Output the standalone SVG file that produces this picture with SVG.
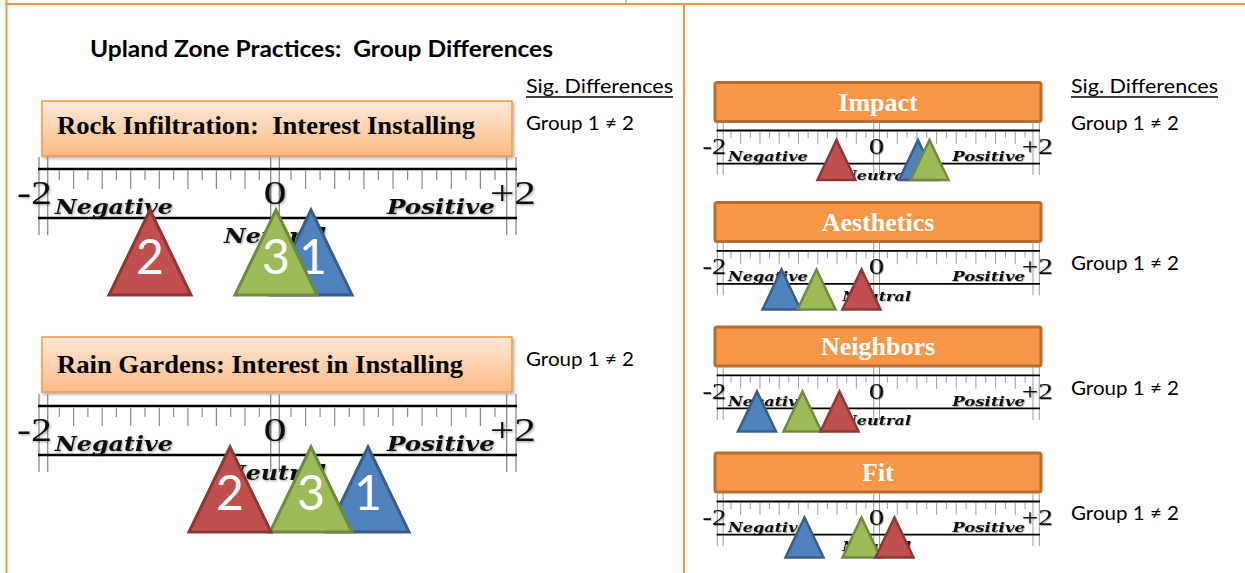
<svg xmlns="http://www.w3.org/2000/svg" xmlns:xlink="http://www.w3.org/1999/xlink" width="1245" height="573" viewBox="0 0 1245 573">
  <style>
    .frame { stroke: #f79646; stroke-width: 2; fill: none; }
    .title { font-family: Lato, "Open Sans", "Liberation Sans", sans-serif; font-weight: bold; font-size: 22px; fill: #000; }
    .sig { font-family: Lato, "Open Sans", "Liberation Sans", sans-serif; font-size: 20px; fill: #000; }
    .grp { font-family: Lato, "Open Sans", "Liberation Sans", sans-serif; font-size: 19px; fill: #000; }
    .peach { fill: url(#peachFill); stroke: #f79646; stroke-width: 1.5; }
    .peach-text { font-family: "Liberation Serif", "Times New Roman", serif; font-weight: bold; font-size: 26px; fill: #000; }
    .obox { fill: #f79646; stroke: #b66d2f; stroke-width: 3; }
    .obox-text { font-family: "Liberation Serif", "Times New Roman", serif; font-weight: bold; font-size: 26px; fill: #fff; text-anchor: middle; }
    .rl-h { stroke: #000; stroke-width: 2.6; }
    .rl-v { stroke: #8a8a8a; stroke-width: 1.3; fill: none; }
    .rl-t { stroke: #8a8a8a; stroke-width: 1.2; fill: none; }
    .num { font-family: "Liberation Serif", "Times New Roman", serif; font-size: 34px; fill: #111; }
    .word { font-family: "DejaVu Serif", "Liberation Serif", serif; font-weight: bold; font-style: italic; font-size: 20px; fill: #111; }
    .tri-r { fill: #c0504d; stroke: #8c3836; stroke-linejoin: miter; }
    .tri-g { fill: #9bbb59; stroke: #71893f; stroke-linejoin: miter; }
    .tri-b { fill: #4f81bd; stroke: #385d8a; stroke-linejoin: miter; }
    .big { stroke-width: 3; }
    .sm { stroke-width: 2.5; }
    .tnum { font-family: Lato, "Open Sans", "Liberation Sans", sans-serif; font-size: 48px; fill: #fff; text-anchor: middle; }
  </style>
  <defs>
    <linearGradient id="peachFill" x1="0" y1="0" x2="0" y2="1">
      <stop offset="0" stop-color="#fee9d8"/>
      <stop offset="1" stop-color="#fbbb86"/>
    </linearGradient>
    <filter id="boxShadow" x="-5%" y="-20%" width="110%" height="150%">
      <feDropShadow dx="1.5" dy="2" stdDeviation="1.5" flood-color="#000" flood-opacity="0.3"/>
    </filter>
    <filter id="labelShadow" x="-10%" y="-30%" width="130%" height="160%">
      <feDropShadow dx="1.2" dy="1.2" stdDeviation="1" flood-color="#000" flood-opacity="0.35"/>
    </filter>
    <!-- ruler from -2 to +2, local origin at the outer left guide / top rail -->
    <g id="ruler-lines">
      <path class="rl-v" d="M0 -12V66M8.7 -12V66M231.7 -12V66M240.3 -12V66M467.7 -12V66M477 -12V66"/>
      <line class="rl-h" x1="-1" y1="0" x2="478" y2="0"/>
      <line class="rl-h" x1="-1" y1="49" x2="478" y2="49"/>
      <path class="rl-t" d="M20.3 1.5V11M48.9 1.5V11M77.4 1.5V11M106 1.5V11M134.6 1.5V11M163.2 1.5V11M191.7 1.5V11M220.3 1.5V11M252 1.5V11M281.1 1.5V11M310.3 1.5V11M339.4 1.5V11M368.6 1.5V11M397.7 1.5V11M426.9 1.5V11M456 1.5V11"/>
      <path class="rl-t" d="M34.6 1.5V20M63.2 1.5V20M91.7 1.5V20M120.3 1.5V20M148.9 1.5V20M177.4 1.5V20M206 1.5V20M266.6 1.5V20M295.7 1.5V20M324.9 1.5V20M354 1.5V20M383.1 1.5V20M412.3 1.5V20M441.4 1.5V20"/>
    </g>
  </defs>

  <rect width="1245" height="573" fill="#fff"/>

  <!-- page frame -->
  <g id="frame">
    <line class="frame" x1="5" y1="4" x2="1245" y2="4"/>
    <line class="frame" x1="6.5" y1="0" x2="6.5" y2="573"/>
    <line class="frame" x1="684" y1="4" x2="684" y2="573"/>
    <line x1="626" y1="0" x2="626" y2="4" stroke="#a0a0a0" stroke-width="1.2"/>
  </g>

  <!-- headings -->
  <g id="headings">
    <text class="title" x="90" y="57" textLength="463" lengthAdjust="spacingAndGlyphs" xml:space="preserve">Upland Zone Practices:  Group Differences</text>
    <text class="sig" x="526" y="93" textLength="147" lengthAdjust="spacingAndGlyphs">Sig. Differences</text>
    <line x1="526" y1="97" x2="673" y2="97" stroke="#000" stroke-width="1.3"/>
    <text class="sig" x="1071" y="93" textLength="147" lengthAdjust="spacingAndGlyphs">Sig. Differences</text>
    <line x1="1071" y1="97" x2="1218" y2="97" stroke="#000" stroke-width="1.3"/>
  </g>

  <!-- Rock Infiltration -->
  <g id="rock-infiltration">
    <rect class="peach" x="42" y="101" width="470" height="55" filter="url(#boxShadow)"/>
    <text class="peach-text" x="57" y="134" textLength="418" lengthAdjust="spacingAndGlyphs" xml:space="preserve">Rock Infiltration:  Interest Installing</text>
    <g transform="translate(39,169)">
      <use xlink:href="#ruler-lines"/>
      <g filter="url(#labelShadow)">
        <text class="num" x="13" y="35" text-anchor="end" textLength="35" lengthAdjust="spacingAndGlyphs">-2</text>
        <text class="num" x="236" y="35" text-anchor="middle" textLength="23" lengthAdjust="spacingAndGlyphs">0</text>
        <text class="num" x="451" y="35" textLength="46" lengthAdjust="spacingAndGlyphs">+2</text>
        <text class="word" x="16" y="45" textLength="118" lengthAdjust="spacingAndGlyphs">Negative</text>
        <text class="word" x="348" y="45" textLength="108" lengthAdjust="spacingAndGlyphs">Positive</text>
        <text class="word" x="236" y="74" text-anchor="middle" textLength="102" lengthAdjust="spacingAndGlyphs">Neutral</text>
      </g>
    </g>
    <polygon class="tri-b big" points="311,210 352,295 270,295"/>
    <text class="tnum" x="313" y="274">1</text>
    <polygon class="tri-g big" points="276,210 317,295 235,295"/>
    <text class="tnum" x="276" y="274">3</text>
    <polygon class="tri-r big" points="150,210 191,295 109,295"/>
    <text class="tnum" x="150" y="274">2</text>
    <text class="grp" x="526" y="129.5" textLength="108" lengthAdjust="spacingAndGlyphs">Group 1 ≠ 2</text>
  </g>

  <!-- Rain Gardens -->
  <g id="rain-gardens">
    <rect class="peach" x="42" y="337" width="470" height="55" filter="url(#boxShadow)"/>
    <text class="peach-text" x="57" y="373" textLength="406" lengthAdjust="spacingAndGlyphs">Rain Gardens: Interest in Installing</text>
    <g transform="translate(39,406)">
      <use xlink:href="#ruler-lines"/>
      <g filter="url(#labelShadow)">
        <text class="num" x="13" y="35" text-anchor="end" textLength="35" lengthAdjust="spacingAndGlyphs">-2</text>
        <text class="num" x="236" y="35" text-anchor="middle" textLength="23" lengthAdjust="spacingAndGlyphs">0</text>
        <text class="num" x="451" y="35" textLength="46" lengthAdjust="spacingAndGlyphs">+2</text>
        <text class="word" x="16" y="45" textLength="118" lengthAdjust="spacingAndGlyphs">Negative</text>
        <text class="word" x="348" y="45" textLength="108" lengthAdjust="spacingAndGlyphs">Positive</text>
        <text class="word" x="236" y="74" text-anchor="middle" textLength="102" lengthAdjust="spacingAndGlyphs">Neutral</text>
      </g>
    </g>
    <polygon class="tri-b big" points="368,447 409,532 327,532"/>
    <text class="tnum" x="368" y="510">1</text>
    <polygon class="tri-g big" points="311,447 352,532 270,532"/>
    <text class="tnum" x="311" y="510">3</text>
    <polygon class="tri-r big" points="230,447 271,532 189,532"/>
    <text class="tnum" x="230" y="510">2</text>
    <text class="grp" x="526" y="366" textLength="108" lengthAdjust="spacingAndGlyphs">Group 1 ≠ 2</text>
  </g>

  <!-- Impact -->
  <g id="impact">
    <rect class="obox" x="715" y="82.5" width="326" height="39" rx="2"/>
    <text class="obox-text" x="878" y="110.5">Impact</text>
    <g transform="translate(717.3,130.5) scale(0.675)">
      <use xlink:href="#ruler-lines"/>
      <g filter="url(#labelShadow)">
        <text class="num" x="13" y="35" text-anchor="end" textLength="35" lengthAdjust="spacingAndGlyphs">-2</text>
        <text class="num" x="236" y="35" text-anchor="middle" textLength="23" lengthAdjust="spacingAndGlyphs">0</text>
        <text class="num" x="451" y="35" textLength="46" lengthAdjust="spacingAndGlyphs">+2</text>
        <text class="word" x="16" y="45" textLength="118" lengthAdjust="spacingAndGlyphs">Negative</text>
        <text class="word" x="348" y="45" textLength="108" lengthAdjust="spacingAndGlyphs">Positive</text>
        <text class="word" x="236" y="74" text-anchor="middle" textLength="102" lengthAdjust="spacingAndGlyphs">Neutral</text>
      </g>
    </g>
    <polygon class="tri-b sm" points="918,140 937,180 899,180"/>
    <polygon class="tri-g sm" points="929.5,140 948.5,180 910.5,180"/>
    <polygon class="tri-r sm" points="836.5,140 855.5,180 817.5,180"/>
    <text class="grp" x="1071" y="129.5" textLength="108" lengthAdjust="spacingAndGlyphs">Group 1 ≠ 2</text>
  </g>

  <!-- Aesthetics -->
  <g id="aesthetics">
    <rect class="obox" x="715" y="202.5" width="326" height="39" rx="2"/>
    <text class="obox-text" x="878" y="230.5">Aesthetics</text>
    <g transform="translate(717.3,250.8) scale(0.675)">
      <use xlink:href="#ruler-lines"/>
      <g filter="url(#labelShadow)">
        <text class="num" x="13" y="35" text-anchor="end" textLength="35" lengthAdjust="spacingAndGlyphs">-2</text>
        <text class="num" x="236" y="35" text-anchor="middle" textLength="23" lengthAdjust="spacingAndGlyphs">0</text>
        <text class="num" x="451" y="35" textLength="46" lengthAdjust="spacingAndGlyphs">+2</text>
        <text class="word" x="16" y="45" textLength="118" lengthAdjust="spacingAndGlyphs">Negative</text>
        <text class="word" x="348" y="45" textLength="108" lengthAdjust="spacingAndGlyphs">Positive</text>
        <text class="word" x="236" y="74" text-anchor="middle" textLength="102" lengthAdjust="spacingAndGlyphs">Neutral</text>
      </g>
    </g>
    <polygon class="tri-b sm" points="781.5,269.5 800.5,309.5 762.5,309.5"/>
    <polygon class="tri-g sm" points="816.5,269.5 835.5,309.5 797.5,309.5"/>
    <polygon class="tri-r sm" points="861.5,269.5 880.5,309.5 842.5,309.5"/>
    <text class="grp" x="1071" y="270" textLength="108" lengthAdjust="spacingAndGlyphs">Group 1 ≠ 2</text>
  </g>

  <!-- Neighbors -->
  <g id="neighbors">
    <rect class="obox" x="715" y="327" width="326" height="39" rx="2"/>
    <text class="obox-text" x="878" y="355">Neighbors</text>
    <g transform="translate(717.3,375.3) scale(0.675)">
      <use xlink:href="#ruler-lines"/>
      <g filter="url(#labelShadow)">
        <text class="num" x="13" y="35" text-anchor="end" textLength="35" lengthAdjust="spacingAndGlyphs">-2</text>
        <text class="num" x="236" y="35" text-anchor="middle" textLength="23" lengthAdjust="spacingAndGlyphs">0</text>
        <text class="num" x="451" y="35" textLength="46" lengthAdjust="spacingAndGlyphs">+2</text>
        <text class="word" x="16" y="45" textLength="118" lengthAdjust="spacingAndGlyphs">Negative</text>
        <text class="word" x="348" y="45" textLength="108" lengthAdjust="spacingAndGlyphs">Positive</text>
        <text class="word" x="236" y="74" text-anchor="middle" textLength="102" lengthAdjust="spacingAndGlyphs">Neutral</text>
      </g>
    </g>
    <polygon class="tri-b sm" points="757,391.5 776,431.5 738,431.5"/>
    <polygon class="tri-g sm" points="802.5,391.5 821.5,431.5 783.5,431.5"/>
    <polygon class="tri-r sm" points="839.5,391.5 858.5,431.5 820.5,431.5"/>
    <text class="grp" x="1071" y="395" textLength="108" lengthAdjust="spacingAndGlyphs">Group 1 ≠ 2</text>
  </g>

  <!-- Fit -->
  <g id="fit">
    <rect class="obox" x="715" y="453" width="326" height="39" rx="2"/>
    <text class="obox-text" x="878" y="481">Fit</text>
    <g transform="translate(717.3,501.5) scale(0.675)">
      <use xlink:href="#ruler-lines"/>
      <g filter="url(#labelShadow)">
        <text class="num" x="13" y="35" text-anchor="end" textLength="35" lengthAdjust="spacingAndGlyphs">-2</text>
        <text class="num" x="236" y="35" text-anchor="middle" textLength="23" lengthAdjust="spacingAndGlyphs">0</text>
        <text class="num" x="451" y="35" textLength="46" lengthAdjust="spacingAndGlyphs">+2</text>
        <text class="word" x="16" y="45" textLength="118" lengthAdjust="spacingAndGlyphs">Negative</text>
        <text class="word" x="348" y="45" textLength="108" lengthAdjust="spacingAndGlyphs">Positive</text>
        <text class="word" x="236" y="74" text-anchor="middle" textLength="102" lengthAdjust="spacingAndGlyphs">Neutral</text>
      </g>
    </g>
    <polygon class="tri-b sm" points="804.5,517.5 823.5,557.5 785.5,557.5"/>
    <polygon class="tri-g sm" points="861.5,517.5 880.5,557.5 842.5,557.5"/>
    <polygon class="tri-r sm" points="894.5,517.5 913.5,557.5 875.5,557.5"/>
    <text class="grp" x="1071" y="520" textLength="108" lengthAdjust="spacingAndGlyphs">Group 1 ≠ 2</text>
  </g>
</svg>
